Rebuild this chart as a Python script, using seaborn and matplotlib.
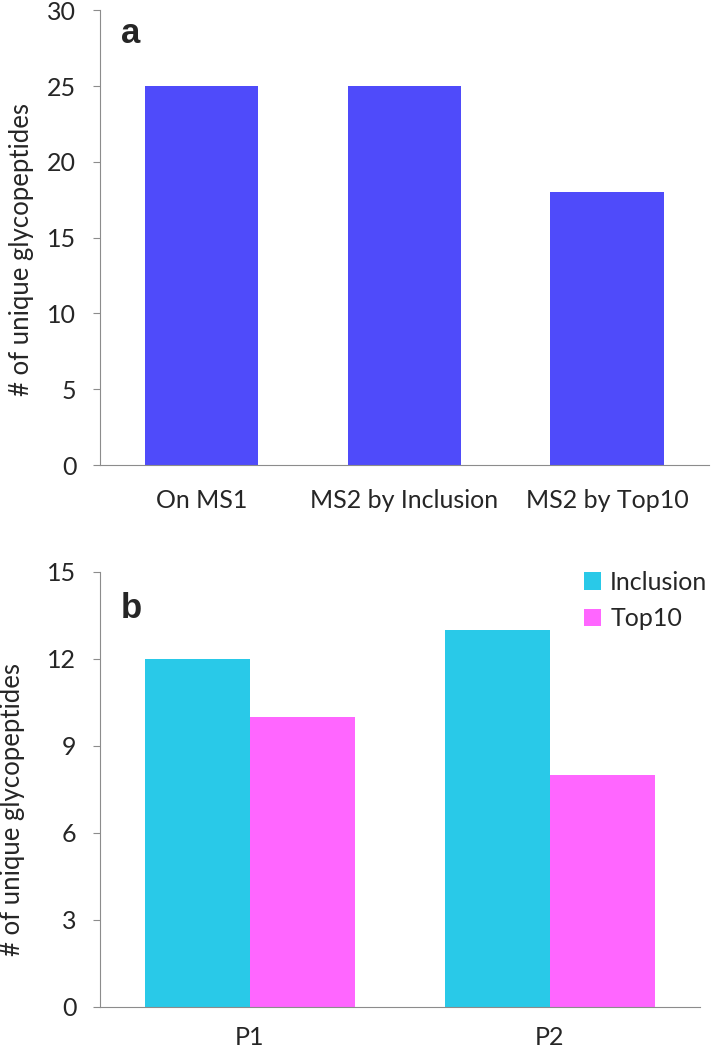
import pandas as pd
import matplotlib
matplotlib.use("Agg")
import matplotlib.pyplot as plt
import seaborn as sns

# data
methods = ["On MS1", "MS2 by Inclusion", "MS2 by Top10"]
method_counts = [25, 25, 18]

proteins = ["P1", "P2"]
inclusion_counts = [12, 13]
top10_counts = [10, 8]

sns.set_style("white")
plt.rcParams["font.family"] = ["Lato", "DejaVu Sans"]

fig = plt.figure(figsize=(7.12, 10.5), dpi=100)
ax1 = fig.add_axes([0.1404, 0.557, 0.855, 0.4333])
ax2 = fig.add_axes([0.1404, 0.041, 0.8427, 0.4143])

gray = "#8c8c8c"
fs = 18

# a) total counts
sns.barplot(x=methods, y=method_counts, color="#4f4bfa", saturation=1,
            width=0.56, linewidth=0, ax=ax1)
ax1.set_ylim(0, 30)
ax1.set_yticks(range(0, 31, 5))
ax1.set_xlim(-0.5, 2.5)
ax1.text(0.035, 0.985, "a", transform=ax1.transAxes, fontsize=25,
         fontweight="bold", va="top", family="Liberation Sans")

# b) per protein
df = pd.DataFrame({
    "protein": proteins * 2,
    "count": inclusion_counts + top10_counts,
    "method": ["Inclusion"] * 2 + ["Top10"] * 2,
})
sns.barplot(data=df, x="protein", y="count", hue="method",
            palette=["#29c9e8", "#ff66ff"], saturation=1, width=0.7,
            linewidth=0, ax=ax2)
ax2.set_ylim(0, 15)
ax2.set_yticks(range(0, 16, 3))
ax2.set_xlim(-0.5, 1.5)
ax2.text(0.035, 0.955, "b", transform=ax2.transAxes, fontsize=25,
         fontweight="bold", va="top", family="Liberation Sans")
leg = ax2.legend(loc="upper right", bbox_to_anchor=(1.05, 1.055), frameon=False,
                 fontsize=fs, handlelength=0.7, handleheight=0.7,
                 handletextpad=0.35, labelspacing=0.55)

for ax, n in [(ax1, 3), (ax2, 2)]:
    sns.despine(ax=ax)
    ax.spines["left"].set_color(gray)
    ax.spines["bottom"].set_color(gray)
    ax.set_xlabel("")
    ax.set_ylabel("# of unique glycopeptides", fontsize=18.5)
    ax.set_xticks([i - 0.5 for i in range(n + 1)], minor=True)
    ax.tick_params(axis="x", which="minor", length=8, color=gray, direction="out")
    ax.tick_params(axis="y", length=5, color=gray, direction="out",
                   labelsize=fs, left=True, pad=12)

ax1.yaxis.set_label_coords(-0.108, 0.475)
ax2.yaxis.set_label_coords(-0.125, 0.455)
ax1.tick_params(axis="x", which="major", length=0, pad=17, labelsize=fs)
ax2.tick_params(axis="x", which="major", length=0, pad=14, labelsize=fs)

fig.savefig("out.png", dpi=100)
